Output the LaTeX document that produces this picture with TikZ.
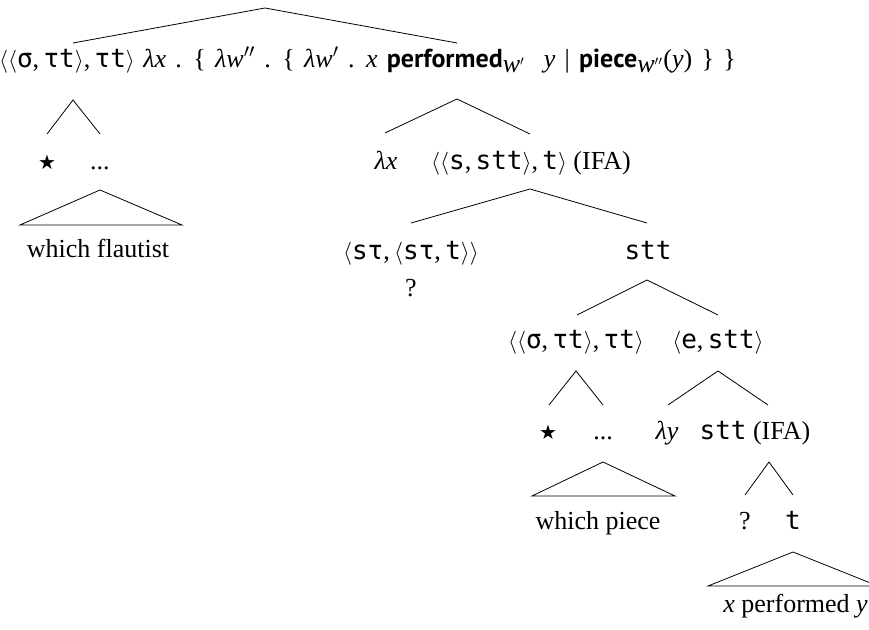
\documentclass[tikz,border=0pt]{standalone}
\usepackage{fontspec}
\setmainfont{Liberation Serif}
\newfontfamily\tyfont[Scale=1.0]{DejaVu Sans Mono}
\newfontfamily\bsffont{PT Sans}
\newfontfamily\djvfont{DejaVu Sans}
\newcommand{\ty}[1]{{\tyfont #1}}
\newcommand{\tla}{{\fontsize{16.5}{18}\selectfont$\langle$}}
\newcommand{\tra}{{\fontsize{16.5}{18}\selectfont$\rangle$}}
\newcommand{\bsw}[1]{{\bsffont\bfseries #1}}
\newcommand{\mystar}{{\djvfont\fontsize{15}{17}\selectfont ★}}
\begin{document}
\begin{tikzpicture}[x=0.75pt,y=-0.75pt,
  lbl/.style={anchor=base,inner sep=0pt,font=\fontsize{19.5}{22}\selectfont},
  edge/.style={line width=0.6pt}]
\useasboundingbox (0,0) rectangle (869,630);
% root
\coordinate (r) at (265,8);
\coordinate (r1) at (73,43);
\coordinate (r2) at (457,43);
\draw[edge] (r1) -- (r) -- (r2);
\node[lbl] (a) at (67,68) {\tla\tla\ty{σ},\,\ty{τt}\tra,\,\ty{τt}\tra};
\node[lbl,anchor=base west] (b) at (143,68) {\spaceskip=7pt plus 1pt minus 1pt\textit{λx} . \{ \textit{λw}$''$ . \{ \textit{λw}$'$ . \textit{x} \bsw{performed}$_{\textit{w}'}$\ \ \textit{y} | \bsw{piece}$_{\textit{w}''}$(\textit{y}) \} \}};
% left subtree
\coordinate (a0) at (73,100);
\coordinate (a1) at (47,134);
\coordinate (a2) at (100,134);
\draw[edge] (a1) -- (a0) -- (a2);
\node[lbl] (star1) at (47,170) {\mystar};
\node[lbl] (dots1) at (100,170) {...};
\coordinate (t1) at (100,190);
\coordinate (t1l) at (20,225);
\coordinate (t1r) at (182,225);
\draw[edge] (t1) -- (t1l) -- (t1r) -- cycle;
\node[lbl] (wf) at (98,258) {which flautist};
% right subtree of root
\coordinate (b0) at (457,99);
\coordinate (b1) at (385,133);
\coordinate (b2) at (530,134);
\draw[edge] (b1) -- (b0) -- (b2);
\node[lbl] (lx) at (386,170) {\textit{λx}};
\node[lbl] (c) at (531,170) {\tla\tla\ty{s},\,\ty{stt}\tra,\,\ty{t}\tra\ (IFA)};
\coordinate (c0) at (530,189);
\coordinate (c1) at (411,223);
\coordinate (c2) at (647,223);
\draw[edge] (c1) -- (c0) -- (c2);
\node[lbl] (d) at (411,260) {\tla\ty{sτ},\,\tla\ty{sτ},\,\ty{t}\tra\tra};
\node[lbl] (q1) at (411,297) {?};
\node[lbl] (e) at (648,260) {\ty{stt}};
\coordinate (e0) at (647,280);
\coordinate (e1) at (577,315);
\coordinate (e2) at (718,315);
\draw[edge] (e1) -- (e0) -- (e2);
\node[lbl] (f) at (576,349) {\tla\tla\ty{σ},\,\ty{τt}\tra,\,\ty{τt}\tra};
\node[lbl] (g) at (718,349) {\tla\ty{e},\,\ty{stt}\tra};
\coordinate (f0) at (576,371);
\coordinate (f1) at (549,405);
\coordinate (f2) at (603,405);
\draw[edge] (f1) -- (f0) -- (f2);
\coordinate (g0) at (718,371);
\coordinate (g1) at (668,405);
\coordinate (g2) at (768,405);
\draw[edge] (g1) -- (g0) -- (g2);
\node[lbl] (star2) at (548,440) {\mystar};
\node[lbl] (dots2) at (603,440) {...};
\node[lbl] (ly) at (667,440) {\textit{λy}};
\node[lbl] (h) at (755,440) {\ty{stt} (IFA)};
\coordinate (t2) at (603,462);
\coordinate (t2l) at (532,496);
\coordinate (t2r) at (675,496);
\draw[edge] (t2) -- (t2l) -- (t2r) -- cycle;
\node[lbl] (wp) at (598,530) {which piece};
\coordinate (h0) at (769,462);
\coordinate (h1) at (745,495);
\coordinate (h2) at (793,495);
\draw[edge] (h1) -- (h0) -- (h2);
\node[lbl] (q2) at (745,530) {?};
\node[lbl] (tt) at (793,530) {\ty{t}};
\coordinate (t3) at (793,552);
\coordinate (t3l) at (708,586);
\coordinate (t3r) at (878,586);
\draw[edge] (t3) -- (t3l) -- (t3r) -- cycle;
\node[lbl,anchor=base east] (xpy) at (868,613) {\textit{x} performed \textit{y}};
\end{tikzpicture}
\end{document}
